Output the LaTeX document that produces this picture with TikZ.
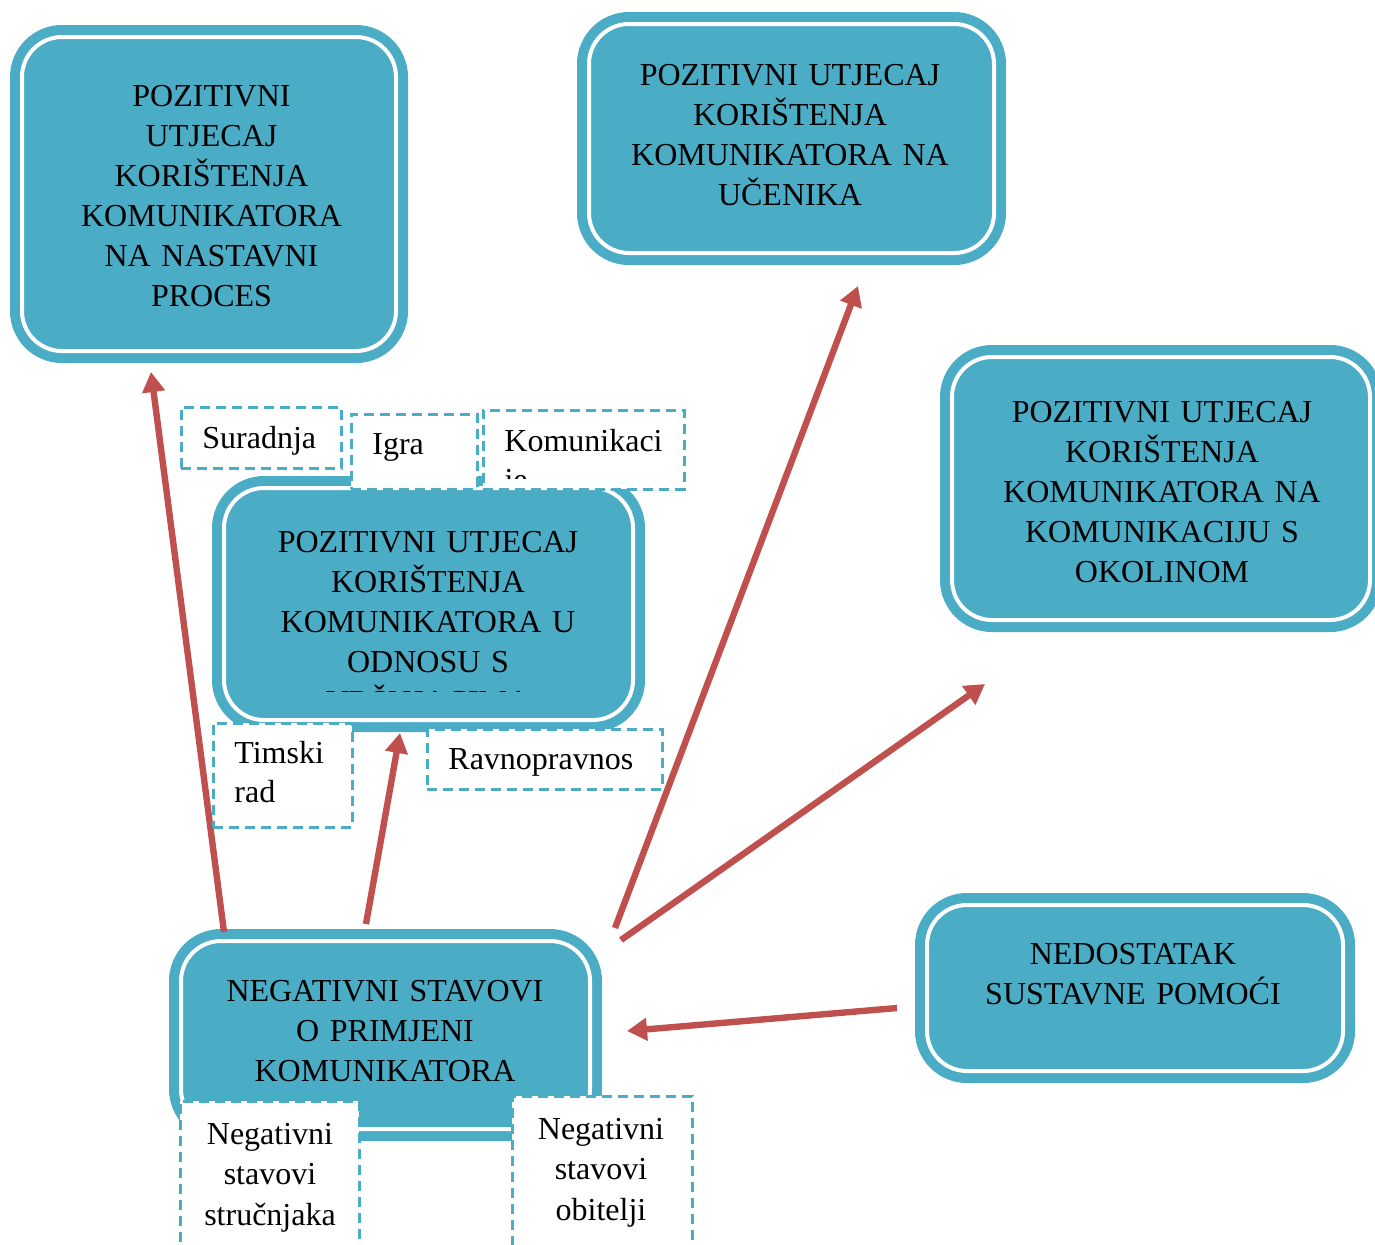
\documentclass[tikz,border=0pt]{standalone}
\usepackage{fontspec}
\setmainfont{Liberation Serif}
\usetikzlibrary{arrows.meta}
\definecolor{tealc}{HTML}{4BACC6}
\definecolor{redc}{HTML}{C0504D}
\tikzset{
  bigbox/.style={rectangle, rounded corners=20pt, fill=tealc, draw=white, line width=2pt,
    preaction={draw=tealc, line width=12pt}, inner sep=0pt},
  dashbox/.style={rectangle, fill=white, draw=tealc, line width=1.5pt, dash pattern=on 5pt off 3pt, inner sep=0pt},
  bigtext/.style={anchor=base, inner sep=0pt, text width=205pt, align=center, font=\fontsize{16pt}{20pt}\selectfont},
  smalltext/.style={anchor=base west, inner sep=0pt, text width=110pt, align=left, font=\fontsize{16pt}{19.6pt}\selectfont},
  ctext/.style={anchor=base, inner sep=0pt, text width=85pt, align=center, font=\fontsize{16pt}{20.4pt}\selectfont},
  redarrow/.style={draw=redc, line width=3.2pt, -{Triangle[length=10pt, width=11pt]}}
}
\begin{document}
\begin{tikzpicture}[x=0.5pt, y=-0.5pt]
\useasboundingbox (0,0) rectangle (1375,1244);
\clip (0,0) rectangle (1375,1244);

% big boxes
\node[bigbox, minimum width=187pt, minimum height=157pt] (A) at (209,194) {};
\node[bigbox, minimum width=202.5pt, minimum height=114.5pt] (B) at (791.5,138.5) {};
\node[bigbox, minimum width=209pt, minimum height=131.5pt] (C) at (1161,488.5) {};
\node[bigbox, minimum width=204.5pt, minimum height=116pt] (D) at (428.5,604) {};
\node[bigbox, minimum width=204.5pt, minimum height=94pt] (E) at (385.5,1035) {};
\node[bigbox, minimum width=208pt, minimum height=83pt] (F) at (1135,988) {};

% big box texts
\node[bigtext] (At) at (211.5,106) {POZITIVNI\\UTJECAJ\\KORIŠTENJA\\KOMUNIKATORA\\NA NASTAVNI\\PROCES};
\node[bigtext] (Bt) at (790,85) {POZITIVNI UTJECAJ\\KORIŠTENJA\\KOMUNIKATORA NA\\UČENIKA};
\node[bigtext] (Ct) at (1162,422) {POZITIVNI UTJECAJ\\KORIŠTENJA\\KOMUNIKATORA NA\\KOMUNIKACIJU S\\OKOLINOM};
\begin{scope}
\clip (200,470) rectangle (660,691.5);
\node[bigtext] (Dt) at (428,552) {POZITIVNI UTJECAJ\\KORIŠTENJA\\KOMUNIKATORA U\\ODNOSU S\\VRŠNJACIMA};
\end{scope}
\node[bigtext] (Et) at (385,1001) {NEGATIVNI STAVOVI\\O PRIMJENI\\KOMUNIKATORA};
\node[bigtext] (Ft) at (1133,964) {NEDOSTATAK\\SUSTAVNE POMOĆI};

% arrows
\coordinate (a1s) at (224,932); \coordinate (a1e) at (151,372);
\coordinate (a2s) at (366,924); \coordinate (a2e) at (400,733);
\coordinate (a3s) at (615,928); \coordinate (a3e) at (858,286);
\coordinate (a4s) at (621,940); \coordinate (a4e) at (985,684);
\coordinate (a5s) at (897,1008); \coordinate (a5e) at (627,1031);
\draw[redarrow] (a1s) -- (a1e);
\draw[redarrow] (a2s) -- (a2e);
\draw[redarrow] (a3s) -- (a3e);
\draw[redarrow] (a4s) -- (a4e);
\draw[redarrow] (a5s) -- (a5e);

% dashed boxes
\node[dashbox, minimum width=80pt, minimum height=30.5pt] (S) at (261,437.5) {};
\node[dashbox, minimum width=63pt, minimum height=37.5pt] (I) at (414,451.5) {};
\node[dashbox, minimum width=100.5pt, minimum height=39.5pt] (K) at (583.5,449.5) {};
\node[dashbox, minimum width=69.5pt, minimum height=52pt] (T) at (282.5,775) {};
\node[dashbox, minimum width=117.5pt, minimum height=30pt] (R) at (544.5,759) {};
\node[dashbox, minimum width=89.5pt, minimum height=99.5pt] (N1) at (269.5,1200.5) {};
\node[dashbox, minimum width=90pt, minimum height=102pt] (N2) at (602,1198) {};

% dashed box texts
\node[smalltext] (St) at (202,448) {Suradnja};
\node[smalltext] (It) at (372,454) {Igra};
\begin{scope}
\clip (480,400) rectangle (690,478);
\node[smalltext] (Kt) at (504,451) {Komunikaci\\je};
\end{scope}
\node[smalltext] (Tt) at (234,763) {Timski\\rad};
\node[smalltext] (Rt) at (448,769) {Ravnopravnos};
\node[ctext] (N1t) at (270,1144) {Negativni\\stavovi\\stručnjaka};
\node[ctext] (N2t) at (601,1139) {Negativni\\stavovi\\obitelji};
\end{tikzpicture}
\end{document}
